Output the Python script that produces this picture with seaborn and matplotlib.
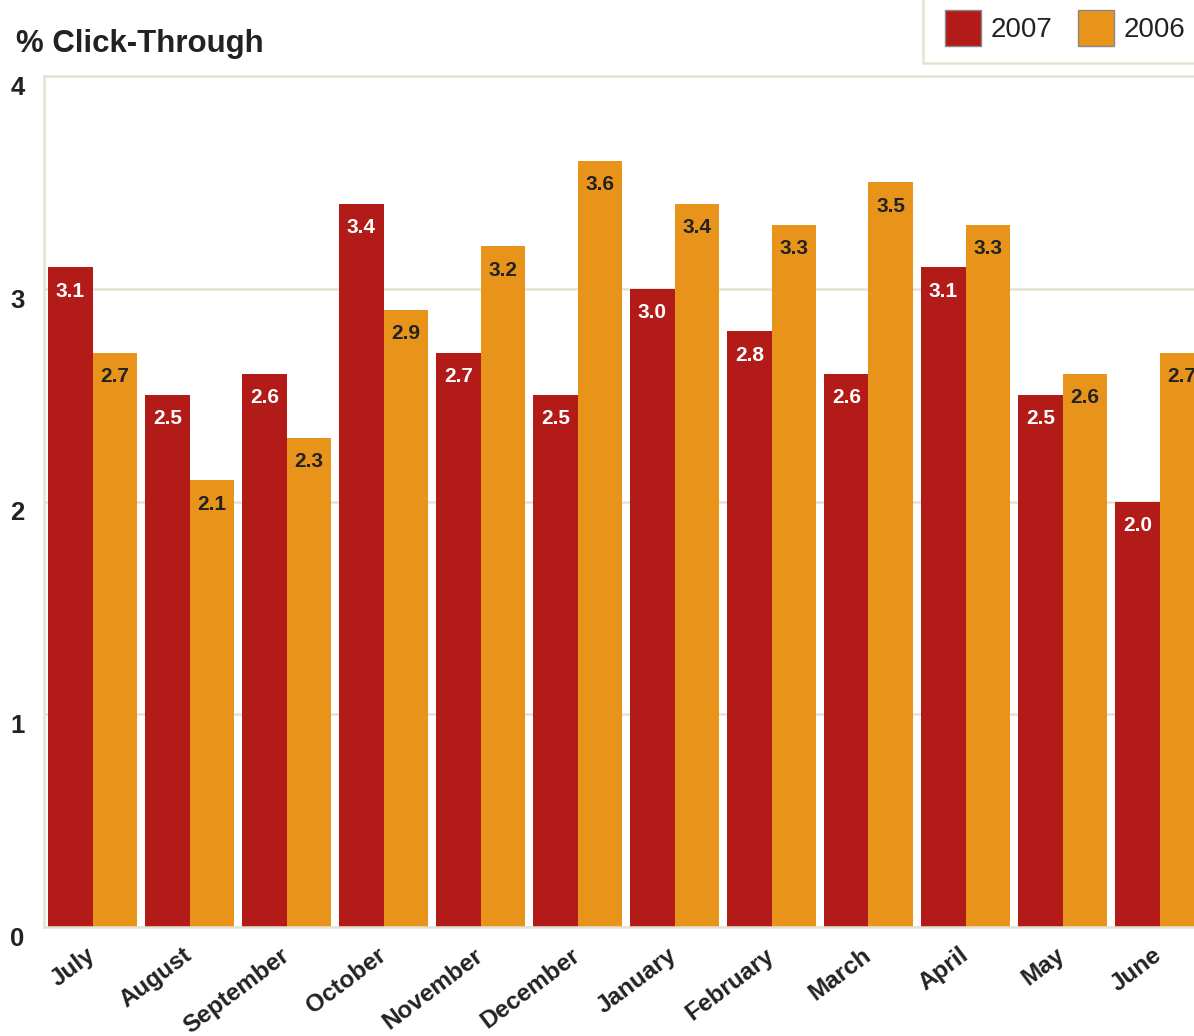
import matplotlib
matplotlib.use("Agg")
import matplotlib.pyplot as plt
import matplotlib.transforms as mtransforms
from matplotlib.patches import Patch, Rectangle
import seaborn as sns
import pandas as pd
import numpy as np

months = ["July", "August", "September", "October", "November", "December",
          "January", "February", "March", "April", "May", "June"]
ctr_2007 = [3.1, 2.5, 2.6, 3.4, 2.7, 2.5, 3.0, 2.8, 2.6, 3.1, 2.5, 2.0]
ctr_2006 = [2.7, 2.1, 2.3, 2.9, 3.2, 3.6, 3.4, 3.3, 3.5, 3.3, 2.6, 2.7]
years = ["2007", "2006"]
y_ticks = [0, 1, 2, 3, 4]

RED = "#B31B18"
ORANGE = "#E8941B"
BEIGE = "#E6E2D3"
INK = "#222222"

sns.set_theme(style="white")
plt.rcParams["font.family"] = ["Liberation Sans", "DejaVu Sans"]

df = pd.DataFrame({
    "month": months * 2,
    "value": ctr_2007 + ctr_2006,
    "year": ["2007"] * len(months) + ["2006"] * len(months),
})

fig = plt.figure(figsize=(11.94, 10.36), dpi=100)
ax = fig.add_axes([44 / 1194, 109 / 1036, 1164 / 1194, 851 / 1036])

sns.barplot(data=df, x="month", y="value", hue="year", hue_order=years,
            order=months, palette=[RED, ORANGE], width=0.91, saturation=1,
            dodge=True, ax=ax, legend=False, linewidth=0)

ax.set_xlim(-0.5, len(months) - 0.5)
ax.set_ylim(0, 4)
ax.set_yticks(y_ticks)
ax.set_yticklabels([str(t) for t in y_ticks], fontsize=18.5, fontweight="bold",
                   color=INK)
for lab in ax.get_yticklabels():
    lab.set_va("top")
ax.tick_params(axis="y", length=0, pad=14)

ax.set_xticks(range(len(months)))
ax.set_xticklabels(months, rotation=37, ha="right", rotation_mode="anchor",
                   fontsize=17.5, fontweight="bold", color=INK)
ax.tick_params(axis="x", which="major", length=0, pad=12)
ax.set_xticks(np.arange(0.5, len(months) - 0.5, 1), minor=True)
ax.tick_params(axis="x", which="minor", direction="in", length=15,
               width=1.2, color="#D8D4C6")

# nudge month labels so their top-right corner sits under the group centre
shift = mtransforms.ScaledTranslation(-7 / 100, 0, fig.dpi_scale_trans)
for lab in ax.get_xticklabels():
    lab.set_transform(lab.get_transform() + shift)

ax.set_xlabel("")
ax.set_ylabel("")
ax.set_axisbelow(True)
ax.yaxis.grid(True, color=BEIGE, linewidth=1.8)
ax.xaxis.grid(False)
for side in ["left", "top", "bottom", "right"]:
    ax.spines[side].set_visible(True)
    ax.spines[side].set_color(BEIGE)
    ax.spines[side].set_linewidth(1.8)

# value labels inside the top of each bar
for container, col in zip(ax.containers, ["white", INK]):
    ax.bar_label(container, fmt="%.1f", padding=-24, color=col,
                 fontsize=15, fontweight="bold")

fig.text(16 / 1194, 1 - 52 / 1036, "% Click-Through", fontsize=22.5,
         fontweight="bold", color=INK, ha="left", va="baseline")

# legend box
fig.patches.append(Rectangle((923 / 1194, 1 - 63 / 1036), 0.5, 0.2,
                             transform=fig.transFigure, facecolor="white",
                             edgecolor=BEIGE, linewidth=1.8))
handles = [Patch(facecolor=RED, edgecolor="#888888", linewidth=1),
           Patch(facecolor=ORANGE, edgecolor="#888888", linewidth=1)]
fig.legend(handles, years, loc="upper left",
           bbox_to_anchor=(945 / 1194, 1 - 10 / 1036), ncol=2, frameon=False,
           fontsize=20, handlelength=1.3, handleheight=1.6, handletextpad=0.35,
           columnspacing=0.9, borderpad=0, borderaxespad=0, labelcolor=INK)

fig.savefig("out.png", dpi=100)
